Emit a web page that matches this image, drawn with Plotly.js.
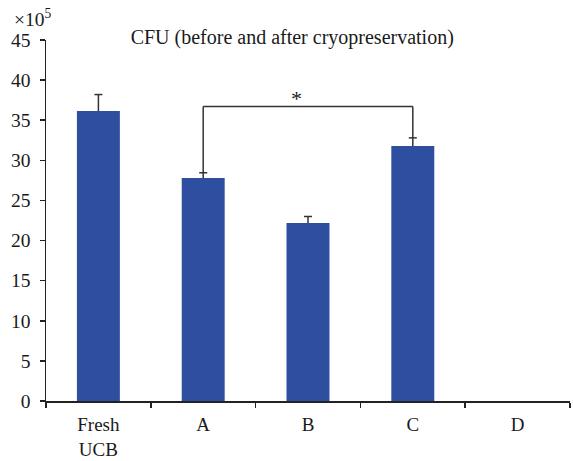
<!DOCTYPE html>
<html>
<head>
<meta charset="utf-8">
<script src="https://cdn.plot.ly/plotly-3.0.1.min.js"></script>
<style>html,body{margin:0;padding:0;background:#fff;}#chart{width:573px;height:461px;}</style>
</head>
<body>
<div id="chart"></div>
<script>
const categories = ['Fresh<br>UCB', 'A', 'B', 'C', 'D'];
const cfuValues = [36.15, 27.8, 22.2, 31.8, 0];
const cfuErrors = [2.05, 0.65, 0.8, 1.0, 0];
const yTicks = [0, 5, 10, 15, 20, 25, 30, 35, 40, 45];
const sigFrom = 'A';
const sigTo = 'C';
const sigLevel = 36.7;
const sigLabel = '*';

const font = 'Liberation Serif, DejaVu Serif, serif';
const axisColor = '#222';
const textColor = '#1a1a1a';
const errColor = '#333';

const trace = {
  type: 'bar',
  x: categories,
  y: cfuValues,
  width: 0.41,
  marker: {color: '#2E4EA0', line: {width: 0}},
  hoverinfo: 'none'
};

const shapes = [];
// one-sided (upper) error bars: stem + cap
categories.forEach((c, i) => {
  if (!cfuErrors[i]) return;
  const top = cfuValues[i] + cfuErrors[i];
  shapes.push({type: 'line', xref: 'x', yref: 'y', x0: i, x1: i, y0: cfuValues[i], y1: top,
               line: {color: errColor, width: 1.5}});
  shapes.push({type: 'line', xref: 'x', yref: 'y', xsizemode: 'pixel', xanchor: i, x0: -4, x1: 4, y0: top, y1: top,
               line: {color: errColor, width: 1.5}});
});

const iFrom = categories.indexOf(sigFrom);
const iTo = categories.indexOf(sigTo);
const lineStyle = {color: errColor, width: 1.5};
shapes.push(
  {type: 'line', xref: 'x', yref: 'y', x0: iFrom, x1: iFrom, y0: cfuValues[iFrom] + cfuErrors[iFrom], y1: sigLevel, line: lineStyle},
  {type: 'line', xref: 'x', yref: 'y', x0: iFrom, x1: iTo, y0: sigLevel, y1: sigLevel, line: lineStyle},
  {type: 'line', xref: 'x', yref: 'y', x0: iTo, x1: iTo, y0: cfuValues[iTo] + cfuErrors[iTo], y1: sigLevel, line: lineStyle}
);

const layout = {
  width: 573, height: 461,
  margin: {l: 46, r: 3, t: 40, b: 60},
  paper_bgcolor: '#fff', plot_bgcolor: '#fff',
  font: {family: font, size: 19, color: textColor},
  title: {text: 'CFU (before and after cryopreservation)', font: {family: font, size: 20, color: textColor},
          x: 0.51, xanchor: 'center', y: 0.92, yanchor: 'middle'},
  showlegend: false,
  xaxis: {
    type: 'category', tickson: 'boundaries', ticks: 'outside', ticklen: 5, tickcolor: axisColor, tickwidth: 1.5,
    showline: true, linecolor: axisColor, linewidth: 1.5, showgrid: false, zeroline: false,
    range: [-0.5, 4.5], tickfont: {family: font, size: 19, color: textColor}, ticklabelstandoff: 6, fixedrange: true
  },
  yaxis: {
    range: [0, 45], tickvals: yTicks, ticktext: yTicks.map(String), ticks: 'outside', ticklen: 5, tickcolor: axisColor, tickwidth: 1.5,
    showline: true, linecolor: axisColor, linewidth: 1.5, showgrid: false, zeroline: false,
    tickfont: {family: font, size: 19.5, color: textColor}, ticklabelstandoff: 5, fixedrange: true
  },
  shapes: shapes,
  annotations: [
    {xref: 'x', yref: 'y', x: (iFrom + iTo) / 2, y: sigLevel, text: sigLabel, showarrow: false, yanchor: 'bottom',
     xshift: -12, yshift: -6, font: {family: font, size: 22, color: textColor}},
    {xref: 'paper', yref: 'paper', x: -0.065, y: 1.0, xanchor: 'left', yanchor: 'bottom', yshift: 8,
     text: '×10<sup>5</sup>', showarrow: false, font: {family: font, size: 19.5, color: textColor}}
  ]
};

Plotly.newPlot('chart', [trace], layout, {staticPlot: true, displayModeBar: false});
</script>
</body>
</html>
